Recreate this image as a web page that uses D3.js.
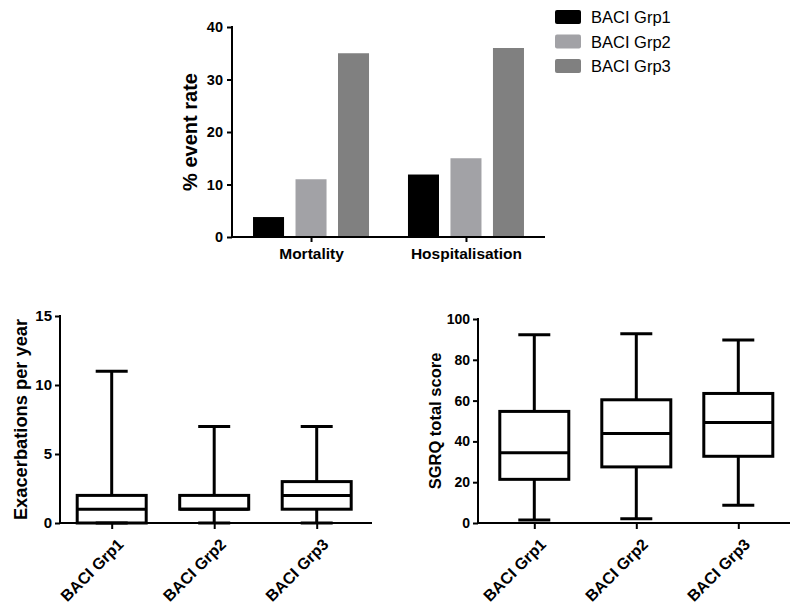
<!DOCTYPE html>
<html><head><meta charset="utf-8">
<script src="https://cdn.jsdelivr.net/npm/d3@7"></script>
<style>
body{margin:0;background:#fff;}
svg{display:block;font-family:"Liberation Sans",Arial,sans-serif;}
</style></head>
<body><svg id="c" width="800" height="606"></svg>
<script>
// ---- data ----
const groups = ["BACI Grp1","BACI Grp2","BACI Grp3"];
const groupColors = ["#000000","#a2a2a6","#808080"];
const outcomes = ["Mortality","Hospitalisation"];
const mortalityRates = [3.8, 11, 35];
const hospitalisationRates = [11.9, 15, 36];
const eventTicks = [0,10,20,30,40];

// exacerbations per year: [min, q1, median, q3, max]
const exacMin = [0,0,0];
const exacQ1 = [0,1,1];
const exacMedian = [1,1,2];
const exacQ3 = [2,2,3];
const exacMax = [11,7,7];
const exacTicks = [0,5,10,15];

// SGRQ total score
const sgrqMin = [1.5,2.1,8.7];
const sgrqQ1 = [21.4,27.5,32.7];
const sgrqMedian = [34.4,43.9,49.3];
const sgrqQ3 = [54.7,60.4,63.5];
const sgrqMax = [92.3,92.8,89.7];
const sgrqTicks = [0,20,40,60,80,100];

const svg = d3.select("#c");

function styleAxis(g, fs){
  g.selectAll("path.domain").remove();
  g.selectAll(".tick line").attr("stroke","#000").attr("stroke-width",2);
  g.selectAll(".tick text").attr("fill","#000").attr("font-size",fs).attr("font-weight","bold")
    .attr("font-family","'Liberation Sans',Arial,sans-serif");
}

// ---------- top grouped bar chart ----------
(function(){
  const L=232,R=545,T=27,B=237;
  const y = d3.scaleLinear().domain([0,40]).range([B,T]);
  const x0 = d3.scalePoint().domain(outcomes).range([L,R]).padding(0.51);
  const x1 = d3.scaleBand().domain(groups).range([-58,58]).paddingInner(0.27);
  const values = {Mortality: mortalityRates, Hospitalisation: hospitalisationRates};
  const col = d3.scaleOrdinal().domain(groups).range(groupColors);

  outcomes.forEach(o=>{
    svg.append("g").selectAll("rect").data(groups).join("rect")
      .attr("x",g=>x0(o)+x1(g)).attr("width",x1.bandwidth())
      .attr("y",(g,i)=>y(values[o][i])).attr("height",(g,i)=>B-y(values[o][i]))
      .attr("fill",g=>col(g));
  });

  const ya = svg.append("g").attr("transform",`translate(${L},0)`)
    .call(d3.axisLeft(y).tickValues(eventTicks).tickSize(5).tickPadding(4));
  styleAxis(ya,"14.5px");
  const xa = svg.append("g").attr("transform",`translate(0,${B})`)
    .call(d3.axisBottom(x0).tickSize(5).tickPadding(6));
  styleAxis(xa,"15.5px");
  svg.append("line").attr("x1",L).attr("x2",L).attr("y1",T-1).attr("y2",B+1).attr("stroke","#000").attr("stroke-width",2);
  svg.append("line").attr("x1",L-1).attr("x2",R).attr("y1",B).attr("y2",B).attr("stroke","#000").attr("stroke-width",2);
  svg.append("text").attr("transform",`translate(197,${(T+B)/2}) rotate(-90)`)
    .attr("text-anchor","middle").attr("font-size","20px").attr("font-weight","bold").text("% event rate");

  // legend
  const lg = svg.append("g");
  groups.forEach((g,i)=>{
    const yy = 10 + i*24.5;
    lg.append("rect").attr("x",555).attr("y",yy).attr("width",26).attr("height",14).attr("rx",2)
      .attr("fill",col(g));
    lg.append("text").attr("x",591).attr("y",yy+13).attr("font-size","16.5px").attr("fill","#000").text(g);
  });
})();

// ---------- box plot helper ----------
function boxPlot(opts){
  const {L,R,T,B,domain,ticks,mins,q1s,meds,q3s,maxs,label,labelX,labelFs,tickFs,range} = opts;
  const y = d3.scaleLinear().domain(domain).range([B,T]);
  const x = d3.scalePoint().domain(groups).range(range);
  const bw = 69, cw = 32;
  const g = svg.append("g");
  groups.forEach((grp,i)=>{
    const cx = x(grp);
    const s = g.append("g").attr("stroke","#000").attr("stroke-width",3).attr("fill","none");
    s.append("line").attr("x1",cx).attr("x2",cx).attr("y1",y(maxs[i])).attr("y2",y(q3s[i]));
    s.append("line").attr("x1",cx).attr("x2",cx).attr("y1",y(q1s[i])).attr("y2",y(mins[i]));
    s.append("line").attr("x1",cx-cw/2).attr("x2",cx+cw/2).attr("y1",y(maxs[i])).attr("y2",y(maxs[i]));
    s.append("line").attr("x1",cx-cw/2).attr("x2",cx+cw/2).attr("y1",y(mins[i])).attr("y2",y(mins[i]));
    s.append("rect").attr("x",cx-bw/2).attr("width",bw).attr("y",y(q3s[i])).attr("height",y(q1s[i])-y(q3s[i]));
    s.append("line").attr("x1",cx-bw/2).attr("x2",cx+bw/2).attr("y1",y(meds[i])).attr("y2",y(meds[i]));
  });
  const ya = svg.append("g").attr("transform",`translate(${L},0)`)
    .call(d3.axisLeft(y).tickValues(ticks).tickSize(5).tickPadding(3));
  styleAxis(ya,tickFs);
  const xa = svg.append("g").attr("transform",`translate(0,${B})`)
    .call(d3.axisBottom(x).tickSize(6));
  styleAxis(xa,"16px");
  xa.selectAll(".tick text").attr("text-anchor","end").attr("dy",null)
    .attr("transform","translate(6,16) rotate(-45)");
  svg.append("line").attr("x1",L).attr("x2",L).attr("y1",T-1).attr("y2",B+1).attr("stroke","#000").attr("stroke-width",2);
  svg.append("line").attr("x1",L-1).attr("x2",R).attr("y1",B).attr("y2",B).attr("stroke","#000").attr("stroke-width",2);
  svg.append("text").attr("transform",`translate(${labelX},${(T+B)/2}) rotate(-90)`)
    .attr("text-anchor","middle").attr("font-size",labelFs).attr("font-weight","bold").text(label);
}

boxPlot({L:60,R:372,T:316,B:523,domain:[0,15],ticks:exacTicks,
  mins:exacMin,q1s:exacQ1,meds:exacMedian,q3s:exacQ3,maxs:exacMax,
  label:"Exacerbations per year",labelX:27,labelFs:"18.3px",tickFs:"15px",range:[111.7,316.7]});

boxPlot({L:478,R:790,T:319,B:523,domain:[0,100],ticks:sgrqTicks,
  mins:sgrqMin,q1s:sgrqQ1,meds:sgrqMedian,q3s:sgrqQ3,maxs:sgrqMax,
  label:"SGRQ total score",labelX:441,labelFs:"16.5px",tickFs:"14px",range:[534.3,738.3]});
</script></body></html>
